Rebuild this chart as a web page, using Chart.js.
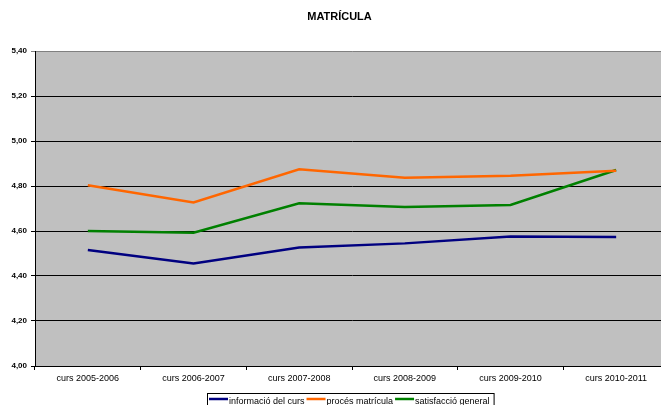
<!DOCTYPE html>
<html lang="ca">
<head>
  <meta charset="UTF-8">
  <title>Matrícula</title>
  <script src="https://cdn.jsdelivr.net/npm/chart.js"></script>
  <style>
    body {
      margin: 0;
      background: #fff;
      overflow: hidden;
    }
    #chart { display: block; }
  </style>
</head>
<body>
  <canvas id="chart" width="670" height="405"></canvas>

  <script>
    const courses = ['curs 2005-2006', 'curs 2006-2007', 'curs 2007-2008', 'curs 2008-2009', 'curs 2009-2010', 'curs 2010-2011'];
    const infoCurs = [4.516, 4.456, 4.527, 4.545, 4.575, 4.573];
    const procesMatricula = [4.803, 4.727, 4.874, 4.837, 4.846, 4.868];
    const satisfaccio = [4.600, 4.592, 4.723, 4.707, 4.716, 4.871];
    const yTicks = [4.0, 4.2, 4.4, 4.6, 4.8, 5.0, 5.2, 5.4];

    const font = 'Arial, "Liberation Sans", sans-serif';

    // grey plot background like the old excel chart
    const plotBg = {
      id: 'plotBg',
      beforeDraw(chart) {
        const a = chart.chartArea, ctx = chart.ctx;
        ctx.save();
        ctx.fillStyle = '#c0c0c0';
        ctx.fillRect(a.left, a.top, a.right - a.left, a.bottom - a.top);
        ctx.restore();
      }
    };

    // boxed legend under the axis, partly cut off at the bottom
    const boxLegend = {
      id: 'boxLegend',
      afterDraw(chart) {
        const ctx = chart.ctx;
        ctx.save();
        ctx.font = '9px ' + font;
        ctx.textBaseline = 'middle';
        let x = 209;
        const y = 401.5;
        chart.data.datasets.forEach(ds => {
          ctx.strokeStyle = ds.borderColor;
          ctx.lineWidth = 2.5;
          ctx.beginPath();
          ctx.moveTo(x, y - 2.5);
          ctx.lineTo(x + 19, y - 2.5);
          ctx.stroke();
          x += 20;
          ctx.fillStyle = '#000';
          ctx.fillText(ds.label, x, y);
          x += ctx.measureText(ds.label).width + 2;
        });
        ctx.strokeStyle = '#000';
        ctx.lineWidth = 1;
        ctx.strokeRect(207.5, 393.5, x - 207 + 2, 20);
        ctx.restore();
      }
    };

    new Chart(document.getElementById('chart'), {
      type: 'line',
      data: {
        labels: courses,
        datasets: [
          { label: 'informació del curs', data: infoCurs, borderColor: '#000080' },
          { label: 'procés matrícula', data: procesMatricula, borderColor: '#ff6600' },
          { label: 'satisfacció general', data: satisfaccio, borderColor: '#008000' }
        ]
      },
      options: {
        responsive: false,
        animation: false,
        layout: { padding: { left: 10, right: 1, top: 0, bottom: 0 } },
        elements: {
          line: { borderWidth: 2.5, tension: 0, fill: false },
          point: { radius: 0 }
        },
        plugins: {
          legend: { display: false },
          tooltip: { enabled: false },
          title: {
            display: true,
            text: 'MATRÍCULA',
            color: '#000',
            font: { family: font, size: 11, weight: 'bold' },
            padding: { top: 10.4, bottom: 27.4 }
          }
        },
        scales: {
          x: {
            offset: true,
            grid: { offset: true, drawOnChartArea: false, tickLength: 4, color: '#000' },
            border: { color: '#000', width: 1 },
            ticks: { color: '#000', font: { family: font, size: 9 }, padding: 3.6, maxRotation: 0 },
            afterFit(scale) { scale.height = 39; }
          },
          y: {
            min: 4.0,
            max: 5.4,
            afterBuildTicks(scale) { scale.ticks = yTicks.map(v => ({ value: v })); },
            grid: {
              tickLength: 4,
              color: ctx => (ctx.tick && ctx.tick.value === 5.4) ? '#808080' : '#000'
            },
            border: { color: '#000', width: 1 },
            ticks: {
              color: '#000',
              font: { family: font, size: 8, weight: 'bold' },
              padding: 4,
              callback: v => Number(v).toFixed(2).replace('.', ',')
            },
            afterFit(scale) { scale.width = 25; }
          }
        }
      },
      plugins: [plotBg, boxLegend]
    });
  </script>
</body>
</html>
